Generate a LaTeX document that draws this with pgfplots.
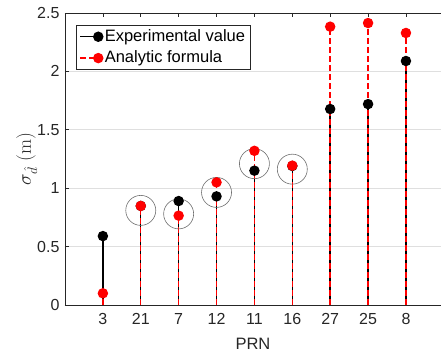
\RequirePackage{fix-cm}
\documentclass[border=0pt]{standalone}
\usepackage{pgfplots}
\pgfplotsset{compat=1.18}
\usepackage[no-math]{fontspec}
\setmainfont{Liberation Sans}
\usetikzlibrary{calc}
\definecolor{axgray}{RGB}{38,38,38}
\definecolor{gridgray}{RGB}{223,223,223}
\definecolor{mred}{RGB}{255,0,0}
\definecolor{circgray}{RGB}{110,110,110}
\begin{document}
\fontsize{16}{19}\selectfont
\begin{tikzpicture}
\begin{axis}[
  scale only axis, width=376pt, height=292pt,
  xmin=0, xmax=9.925, ymin=0, ymax=2.5,
  axis x line*=box, axis y line*=left,
  xtick={1,...,9}, xticklabels={3,21,7,12,11,16,27,25,8},
  ytick={0,0.5,1,1.5,2,2.5},
  yticklabels={0,0.5,1,1.5,2,2.5},
  tick align=inside,
  major tick length=4pt,
  ymajorgrids, grid style={gridgray, line width=0.6pt},
  axis line style={axgray, line width=0.6pt},
  tick style={axgray, line width=0.6pt},
  ticklabel style={text=axgray, font=\fontsize{16}{19}\selectfont},
  xticklabel style={yshift=-3pt},
  /pgf/number format/assume math mode=true,
  xlabel={PRN},
  ylabel={$\sigma_{\hat{d}}\ (\mathrm{m})$},
  label style={text=axgray},
  xlabel style={at={(axis description cs:0.5,-0.134)}, anchor=center, font=\fontsize{16.5}{19}\selectfont},
  ylabel style={at={(axis description cs:-0.102,0.5)}, anchor=center, font=\fontsize{19.5}{23}\selectfont},
  legend style={at={(0.03,0.958)}, anchor=north west, draw=axgray, line width=0.6pt,
    fill=white, font=\fontsize{16.5}{19}\selectfont, inner xsep=3pt, inner ysep=2pt, row sep=3pt,
    cells={anchor=west}},
  legend image code/.code={\draw[#1, sharp plot, mark repeat=2, mark phase=2] plot coordinates {(0pt,0pt) (18pt,0pt)};},
]
\addplot[only marks, mark=o, mark size=15pt, mark options={draw=circgray, line width=0.6pt}, forget plot]
  coordinates {(2,0.81) (3,0.78) (4,0.964) (5,1.21) (6,1.163)};
\addplot[ycomb, black, solid, line width=1.4pt, mark=*, mark size=4.5pt, mark options={fill=black, solid}]
  coordinates {(1,0.59) (2,0.848) (3,0.89) (4,0.93) (5,1.15) (6,1.19) (7,1.678) (8,1.72) (9,2.089)};
\addlegendentry{Experimental value}
\addplot[ycomb, mred, line width=1.4pt, dash pattern=on 6pt off 3pt, mark=*, mark size=4.5pt, mark options={fill=mred, draw=mred, solid}]
  coordinates {(1,0.10) (2,0.848) (3,0.765) (4,1.05) (5,1.32) (6,1.193) (7,2.383) (8,2.414) (9,2.329)};
\addlegendentry{Analytic formula}
\end{axis}
\pgfresetboundingbox
\path ($(current axis.south west)+(-65pt,-48pt)$) rectangle ($(current axis.north east)+(0pt,13pt)$);
\end{tikzpicture}
\end{document}
